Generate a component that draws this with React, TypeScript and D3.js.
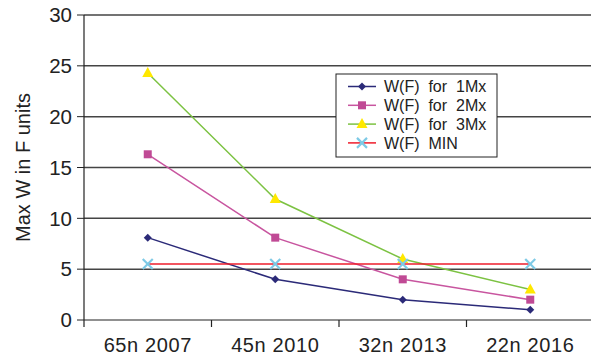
import React from "react";
import * as d3 from "d3";

const categories = ["65n 2007", "45n 2010", "32n 2013", "22n 2016"];
const series1Mx = [8.1, 4.0, 2.0, 1.0];
const series2Mx = [16.3, 8.1, 4.0, 2.0];
const series3Mx = [24.3, 11.9, 6.0, 3.0];
const seriesMin = [5.5, 5.5, 5.5, 5.5];
const yTicks = [0, 5, 10, 15, 20, 25, 30];
const seriesNames = ["W(F)  for  1Mx", "W(F)  for  2Mx", "W(F)  for  3Mx", "W(F)  MIN"];

const W = 591, H = 359;
const left = 84, top = 15, bottom = 320;

const x = d3.scaleBand<string>().domain(categories).range([left, left + 4 * 127.5]);
const y = d3.scaleLinear().domain([0, 30]).range([bottom, top]);
const cx = (c: string) => (x(c) as number) + x.bandwidth() / 2;

const FONT = "'Liberation Sans', Arial, Helvetica, sans-serif";

type S = { name: string; values: number[]; line: string; marker: string; fill: string };
const series: S[] = [
  { name: seriesNames[0], values: series1Mx, line: "#2b2a78", marker: "diamond", fill: "#2b2a78" },
  { name: seriesNames[1], values: series2Mx, line: "#c8559f", marker: "square", fill: "#c04a95" },
  { name: seriesNames[2], values: series3Mx, line: "#7cc242", marker: "triangle", fill: "#ffe800" },
  { name: seriesNames[3], values: seriesMin, line: "#ee1c2b", marker: "x", fill: "#7ecae6" },
];

function Marker({ kind, px, py, fill }: { kind: string; px: number; py: number; fill: string }) {
  if (kind === "diamond")
    return <path d={`M${px},${py - 4}L${px + 4},${py}L${px},${py + 4}L${px - 4},${py}Z`} fill={fill} />;
  if (kind === "square") return <rect x={px - 4} y={py - 4} width={8} height={8} fill={fill} />;
  if (kind === "triangle")
    return <path d={`M${px},${py - 6}L${px + 5.5},${py + 4}L${px - 5.5},${py + 4}Z`} fill={fill} />;
  return (
    <g stroke={fill} strokeWidth={2.2}>
      <line x1={px - 5} y1={py - 5} x2={px + 5} y2={py + 5} />
      <line x1={px - 5} y1={py + 5} x2={px + 5} y2={py - 5} />
    </g>
  );
}

export default function App() {
  const line = d3
    .line<number>()
    .x((_, i) => cx(categories[i]))
    .y((d) => y(d));
  const legX = 336, legY = 74, legW = 161, legH = 83;
  return (
    <svg width={W} height={H} style={{ position: "absolute", left: 0, top: 0 }} fontFamily={FONT}>
      <rect width={W} height={H} fill="#fff" />
      {yTicks.map((t) => (
        <g key={t}>
          {t > 0 && <line x1={left} x2={W} y1={y(t)} y2={y(t)} stroke="#444" strokeWidth={1.5} />}
          <line x1={left - 7} x2={left} y1={y(t)} y2={y(t)} stroke="#222" strokeWidth={1} />
          <text x={left - 12} y={y(t)} dy="0.35em" textAnchor="end" fontSize={20.5} fill="#222">
            {t}
          </text>
        </g>
      ))}
      <line x1={left} x2={W} y1={bottom} y2={bottom} stroke="#222" strokeWidth={1.2} />
      <line x1={left} x2={left} y1={top} y2={bottom + 7} stroke="#222" strokeWidth={1.2} />
      {categories.map((c, i) => (
        <g key={c}>
          {i > 0 && (
            <line x1={x(c) as number} x2={x(c) as number} y1={bottom} y2={bottom + 7} stroke="#222" strokeWidth={1.2} />
          )}
          <text x={cx(c)} y={352} textAnchor="middle" fontSize={20} letterSpacing={0.6} fill="#222">
            {c}
          </text>
        </g>
      ))}
      <text
        transform={`translate(23,${(top + bottom) / 2}) rotate(-90)`}
        textAnchor="middle"
        fontSize={20}
        fill="#222"
        dy="0.35em"
      >
        Max W in F units
      </text>
      {series.map((s) => (
        <g key={s.name}>
          <path d={line(s.values) || ""} fill="none" stroke={s.line} strokeWidth={1.5} />
          {s.values.map((v, i) => (
            <Marker key={i} kind={s.marker} px={cx(categories[i])} py={y(v)} fill={s.fill} />
          ))}
        </g>
      ))}
      <rect x={legX} y={legY} width={legW} height={legH} fill="#fff" stroke="#222" strokeWidth={1} />
      {series.map((s, i) => {
        const ly = legY + 12.5 + i * 18.8;
        return (
          <g key={s.name}>
            <line x1={legX + 12} x2={legX + 40} y1={ly} y2={ly} stroke={s.line} strokeWidth={1.5} />
            <Marker kind={s.marker} px={legX + 26} py={ly} fill={s.fill} />
            <text x={legX + 48} y={ly} dy="0.35em" fontSize={16} fill="#222" style={{ whiteSpace: "pre" }}>
              {s.name}
            </text>
          </g>
        );
      })}
    </svg>
  );
}
